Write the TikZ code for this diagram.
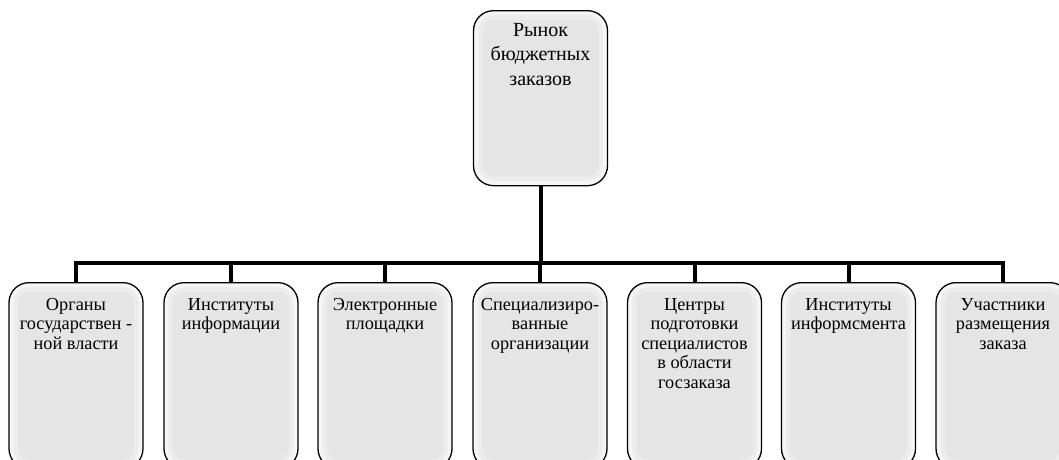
\documentclass[tikz,border=0pt]{standalone}
\usepackage{fontspec}
\setmainfont{Liberation Serif}
\tikzset{
  x=1pt, y=1pt,
  boxstyle/.style={draw=black, line width=1.3pt, rounded corners=20pt, fill=gray!20,
    minimum width=134pt, inner sep=0pt, anchor=north,
    path picture={
      \draw[white, line width=18pt, opacity=.3, rounded corners=20pt]
        (path picture bounding box.south west) rectangle (path picture bounding box.north east);
      \draw[white, line width=9pt, opacity=.5, rounded corners=20pt]
        (path picture bounding box.south west) rectangle (path picture bounding box.north east);
    }},
  topbox/.style={boxstyle, minimum height=175pt},
  lowbox/.style={boxstyle, minimum height=186pt},
  txt/.style={anchor=north, align=center, inner sep=0pt, font=\fontsize{18.3}{19.5}\selectfont},
  toptxt/.style={anchor=north, align=center, inner sep=0pt, font=\fontsize{20}{24.5}\selectfont},
  conn/.style={line width=4pt, line join=miter, line cap=butt}
}
\begin{document}
\begin{tikzpicture}
\useasboundingbox (0,0) rectangle (1059,-459);
\clip (0,0) rectangle (1059,-459);
\node[topbox] (top) at (540.5,-10) {};
\node[toptxt] (ttop) at (540.5,-23) {Рынок\\бюджетных\\заказов};

\node[lowbox] (b1) at (76,-282) {};
\node[lowbox] (b2) at (231,-282) {};
\node[lowbox] (b3) at (385,-282) {};
\node[lowbox] (b4) at (540,-282) {};
\node[lowbox] (b5) at (694.5,-282) {};
\node[lowbox] (b6) at (848.5,-282) {};
\node[lowbox] (b7) at (1003,-282) {};

\node[txt] (t1) at (76,-298) {Органы\\государствен -\\ной власти};
\node[txt] (t2) at (231,-298) {Институты\\информации};
\node[txt] (t3) at (385,-298) {Электронные\\площадки};
\node[txt] (t4) at (540,-298) {Специализиро-\\ванные\\организации};
\node[txt] (t5) at (694.5,-298) {Центры\\подготовки\\специалистов\\в области\\госзаказа};
\node[txt] (t6) at (848.5,-298) {Институты\\информсмента};
\node[txt] (t7) at (1003,-298) {Участники\\размещения\\заказа};

\coordinate (bar) at (540.5,-263);
\draw[conn] (top.south) -- (bar);
\draw[conn] (b1.north) -- (b1.north |- bar) -- (b7.north |- bar) -- (b7.north);
\foreach \b in {b2,b3,b4,b5,b6} \draw[conn] (\b.north) -- (\b.north |- bar);
\end{tikzpicture}
\end{document}
